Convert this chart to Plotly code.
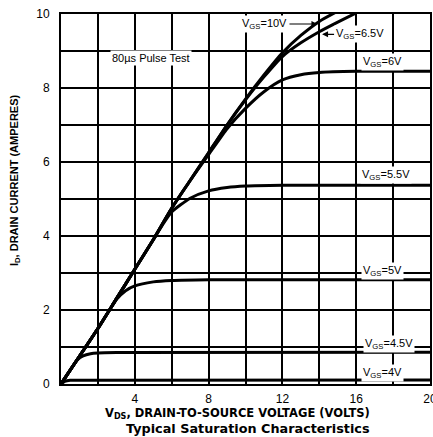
import plotly.graph_objects as go

# ---- data ----
vds_10 = [0, 1, 2, 3, 4, 5, 6, 7, 8, 9, 10, 11, 12, 13, 14, 14.9]
id_10 = [0, 0.75, 1.5, 2.3, 3.1, 3.9, 4.75, 5.5, 6.25, 7.0, 7.7, 8.35, 8.95, 9.42, 9.8, 10.05]

vds_65 = [0, 1, 2, 3, 4, 5, 6, 7, 8, 9, 10, 11, 12, 13, 14, 15, 16]
id_65 = [0, 0.75, 1.5, 2.3, 3.1, 3.9, 4.75, 5.5, 6.25, 7.0, 7.68, 8.3, 8.85, 9.22, 9.52, 9.78, 10.03]

vds_6 = [0, 1, 2, 3, 4, 5, 6, 7, 8, 9, 10, 11, 12, 13, 14, 16, 18, 20]
id_6 = [0, 0.75, 1.5, 2.3, 3.1, 3.9, 4.75, 5.5, 6.2, 6.9, 7.45, 7.9, 8.22, 8.36, 8.42, 8.45, 8.45, 8.45]

vds_55 = [0, 1, 2, 3, 4, 5, 5.5, 6, 7, 8, 9, 10, 12, 20]
id_55 = [0, 0.75, 1.5, 2.3, 3.1, 3.9, 4.3, 4.65, 5.02, 5.22, 5.31, 5.35, 5.37, 5.37]

vds_5 = [0, 1, 2, 2.5, 3, 3.5, 4, 5, 6, 8, 20]
id_5 = [0, 0.75, 1.5, 1.9, 2.28, 2.52, 2.65, 2.76, 2.8, 2.82, 2.82]

vds_45 = [0, 0.5, 0.9, 1.2, 1.6, 2, 3, 20]
id_45 = [0, 0.38, 0.66, 0.76, 0.82, 0.84, 0.85, 0.86]

vds_4 = [0, 0.2, 0.5, 1, 20]
id_4 = [0, 0.07, 0.1, 0.1, 0.11]

x_tickvals = [4, 8, 12, 16, 20]
x_ticktext = ["4", "8", "12", "16", "20"]
x_gridminor = [2, 6, 10, 14, 18]
y_tickvals = [0, 2, 4, 6, 8, 10]
y_ticktext = ["0", "2", "4", "6", "8", "10"]
y_gridminor = [1, 3, 5, 7, 9]

curves = [
    (vds_10, id_10), (vds_65, id_65), (vds_6, id_6), (vds_55, id_55),
    (vds_5, id_5), (vds_45, id_45), (vds_4, id_4),
]

FONT = "Liberation Sans, Arial, sans-serif"
WIDE = "DejaVu Sans, Verdana, sans-serif"

fig = go.Figure()
for xs, ys in curves:
    fig.add_trace(go.Scatter(x=xs, y=ys, mode="lines",
                             line=dict(color="black", width=3, shape="spline", smoothing=0.6),
                             showlegend=False, hoverinfo="skip"))

ann = []
lab_font = dict(family=FONT, size=11, color="black")

for txt, x, y in [
    ("V<sub>GS</sub>=6V", 17.4, 8.7),
    ("V<sub>GS</sub>=5.5V", 17.6, 5.65),
    ("V<sub>GS</sub>=5V", 17.4, 3.05),
    ("V<sub>GS</sub>=4.5V", 17.8, 1.08),
    ("V<sub>GS</sub>=4V", 17.4, 0.3),
]:
    ann.append(dict(x=x, y=y, xref="x", yref="y", text=txt, showarrow=False,
                    font=lab_font, bgcolor="white", borderpad=1))

ann.append(dict(x=2.65, y=8.8, xref="x", yref="y", text="80µs Pulse Test", showarrow=False,
                xanchor="left", font=lab_font, bgcolor="white", borderpad=1))

ann.append(dict(x=13.9, y=9.73, xref="x", yref="y", text="V<sub>GS</sub>=10V",
                showarrow=True, arrowhead=2, arrowsize=1, arrowwidth=1.2, arrowcolor="black",
                ax=-28, ay=0, xanchor="right", font=lab_font, bgcolor="white", borderpad=1))
ann.append(dict(x=14.15, y=9.45, xref="x", yref="y", text="V<sub>GS</sub>=6.5V",
                showarrow=True, arrowhead=2, arrowsize=1, arrowwidth=1.2, arrowcolor="black",
                ax=12, ay=0, xanchor="left", font=lab_font, bgcolor="white", borderpad=1))

ann.append(dict(x=(237 - 61) / 369, y=(384 - 413) / 370, xref="paper", yref="paper",
                text="<b>V<sub>DS</sub>, DRAIN-TO-SOURCE VOLTAGE (VOLTS)</b>", showarrow=False,
                font=dict(family=WIDE, size=11.5, color="black"), yanchor="middle"))
ann.append(dict(x=(248 - 61) / 369, y=(384 - 428) / 370, xref="paper", yref="paper",
                text="<b>Typical Saturation Characteristics</b>", showarrow=False,
                font=dict(family=WIDE, size=12.8, color="black"), yanchor="middle"))
ann.append(dict(x=(15 - 61) / 369, y=(384 - 180) / 370, xref="paper", yref="paper",
                text="<b>I<sub>D</sub>, DRAIN CURRENT (AMPERES)</b>", showarrow=False, textangle=-90,
                font=dict(family=FONT, size=11, color="black"), xanchor="center", yanchor="middle"))

grid = dict(showgrid=True, gridcolor="black", gridwidth=1.5)
axis_common = dict(zeroline=False, showline=True, linecolor="black", linewidth=2, mirror=True,
                   tickfont=dict(family=FONT, size=12, color="black"), ticks="",
                   tickmode="array", automargin=False, ticklabeloverflow="allow", **grid)

fig.update_layout(
    width=433, height=437,
    margin=dict(l=61, r=3, t=14, b=53, autoexpand=False),
    paper_bgcolor="white", plot_bgcolor="white",
    xaxis=dict(range=[0, 20], tickvals=x_tickvals, ticktext=x_ticktext,
               minor=dict(tickmode="array", tickvals=x_gridminor, **grid),
               ticklabelstandoff=3, **axis_common),
    yaxis=dict(range=[0, 10], tickvals=y_tickvals, ticktext=y_ticktext,
               minor=dict(tickmode="array", tickvals=y_gridminor, **grid),
               ticklabelstandoff=7, **axis_common),
    annotations=ann,
)

fig.write_html("out.html", config={"displayModeBar": False},
               post_script="document.body.style.margin='0';")
